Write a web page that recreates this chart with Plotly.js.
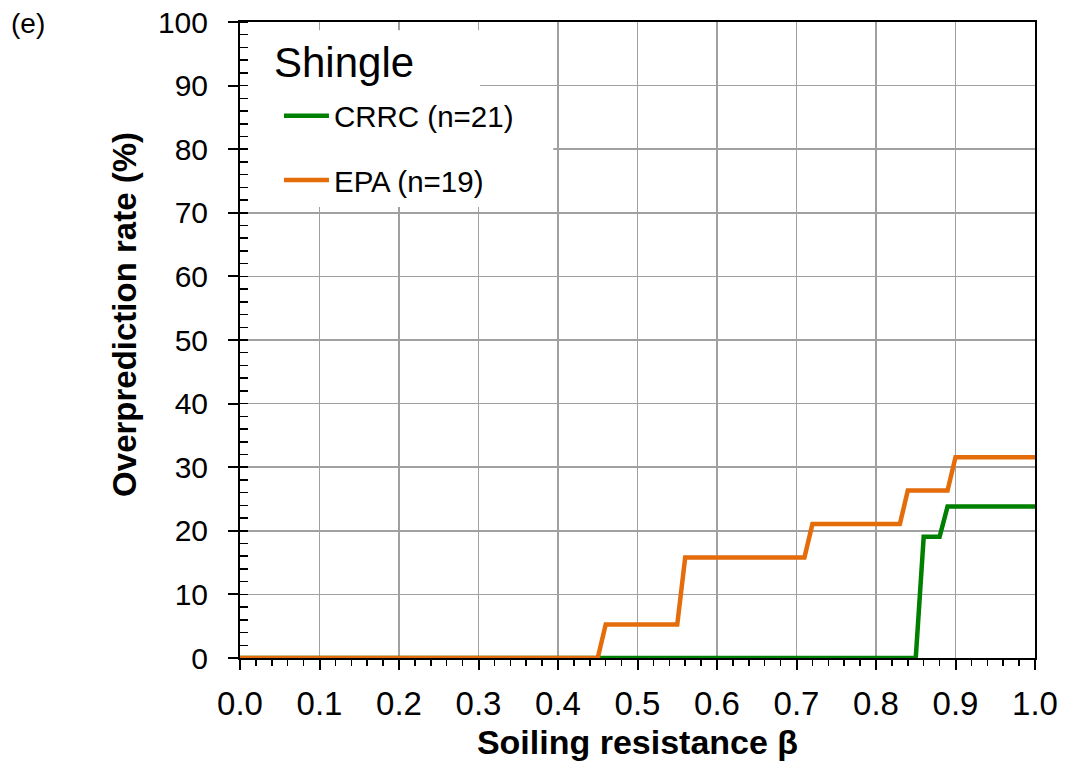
<!DOCTYPE html>
<html>
<head>
<meta charset="utf-8">
<script src="https://cdn.plot.ly/plotly-3.0.1.min.js"></script>
<style>
  html, body { margin: 0; padding: 0; background: #ffffff; }
  #chart { width: 1066px; height: 769px; }
</style>
</head>
<body>
<div id="chart"></div>
<script>
// Soiling resistance (beta) at the corners of each step
const crrcBeta = [0.00, 0.85, 0.86, 0.88, 0.89, 1.00];
// Overprediction rate (%) for CRRC roofs, n = 21
const crrcRate = [0.00, 0.00, 19.05, 19.05, 23.81, 23.81];

const epaBeta = [0.00, 0.45, 0.46, 0.55, 0.56, 0.71, 0.72, 0.83, 0.84, 0.89, 0.90, 1.00];
// Overprediction rate (%) for EPA roofs, n = 19
const epaRate = [0.00, 0.00, 5.26, 5.26, 15.79, 15.79, 21.05, 21.05, 26.32, 26.32, 31.58, 31.58];

const seriesNames = ['CRRC (n=21)', 'EPA (n=19)'];
const panelLabel = '(e)';
const roofType = 'Shingle';
const xTitle = 'Soiling resistance \u03b2';
const yTitle = 'Overprediction rate (%)';

const FONT = 'Liberation Sans, Arial, sans-serif';
const GREEN = '#008000';
const ORANGE = '#E46C0A';

const traces = [
  {
    x: crrcBeta, y: crrcRate, name: seriesNames[0], legendgroup: 'a',
    type: 'scatter', mode: 'lines', cliponaxis: false,
    line: { color: GREEN, width: 4.5 }
  },
  {
    x: epaBeta, y: epaRate, name: seriesNames[1], legendgroup: 'b',
    type: 'scatter', mode: 'lines', cliponaxis: false,
    line: { color: ORANGE, width: 4.5 }
  }
];

const layout = {
  width: 1066, height: 769,
  margin: { l: 240, r: 31, t: 22, b: 111 },
  paper_bgcolor: '#ffffff', plot_bgcolor: '#ffffff',
  font: { family: FONT, color: '#000000' },
  showlegend: true,
  legend: {
    x: 0.049, y: 0.893, xanchor: 'left', yanchor: 'top',
    bgcolor: 'rgba(0,0,0,0)', borderwidth: 0,
    font: { family: FONT, size: 29.5, color: '#000000' },
    tracegroupgap: 23, itemwidth: 45
  },
  xaxis: {
    range: [0, 1], dtick: 0.1, tick0: 0, tickformat: '.1f',
    showline: true, linecolor: '#000000', linewidth: 2, mirror: true,
    showgrid: true, gridcolor: '#A0A0A0', gridwidth: 1.5, zeroline: false,
    ticks: 'outside', ticklen: 10, tickwidth: 2, tickcolor: '#000000',
    minor: { dtick: 0.02, ticks: 'outside', ticklen: 6, tickwidth: 1.5, tickcolor: '#000000', showgrid: false },
    tickfont: { family: FONT, size: 33, color: '#000000' },
    ticklabelstandoff: 5,
    layer: 'below traces',
    title: { text: '<b>' + xTitle + '</b>', font: { family: FONT, size: 34, color: '#000000' }, standoff: 10 }
  },
  yaxis: {
    range: [0, 100], dtick: 10, tick0: 0,
    showline: true, linecolor: '#000000', linewidth: 2, mirror: true,
    showgrid: true, gridcolor: '#A0A0A0', gridwidth: 1.5, zeroline: false,
    ticks: 'outside', ticklen: 10, tickwidth: 2, tickcolor: '#000000',
    minor: { dtick: 2, ticks: 'inside', ticklen: 8, tickwidth: 1.5, tickcolor: '#000000', showgrid: false },
    tickfont: { family: FONT, size: 30, color: '#000000' },
    ticklabelstandoff: 14,
    layer: 'below traces'
  },
  shapes: [
    // white panels behind the roof-type label and the legend
    { type: 'rect', xref: 'x', yref: 'y', layer: 'between', x0: 0.003, x1: 0.302, y0: 87.2, y1: 98.7,
      fillcolor: '#ffffff', line: { width: 0 } },
    { type: 'rect', xref: 'x', yref: 'y', layer: 'between', x0: 0.003, x1: 0.394, y0: 70.9, y1: 87.6,
      fillcolor: '#ffffff', line: { width: 0 } }
  ],
  annotations: [
    { text: panelLabel, xref: 'paper', yref: 'paper', x: -0.29, y: 0.998,
      xanchor: 'left', yanchor: 'middle', showarrow: false,
      font: { family: FONT, size: 28, color: '#000000' } },
    { text: roofType, xref: 'paper', yref: 'paper', x: 0.040, y: 0.937,
      xanchor: 'left', yanchor: 'middle', showarrow: false,
      font: { family: FONT, size: 42, color: '#000000' } },
    { text: '<b>' + yTitle + '</b>', xref: 'paper', yref: 'paper', x: -0.1447, y: 0.541,
      xanchor: 'center', yanchor: 'middle', textangle: -90, showarrow: false,
      font: { family: FONT, size: 33, color: '#000000' } }
  ]
};

Plotly.newPlot('chart', traces, layout, { displayModeBar: false, staticPlot: true });
</script>
</body>
</html>
